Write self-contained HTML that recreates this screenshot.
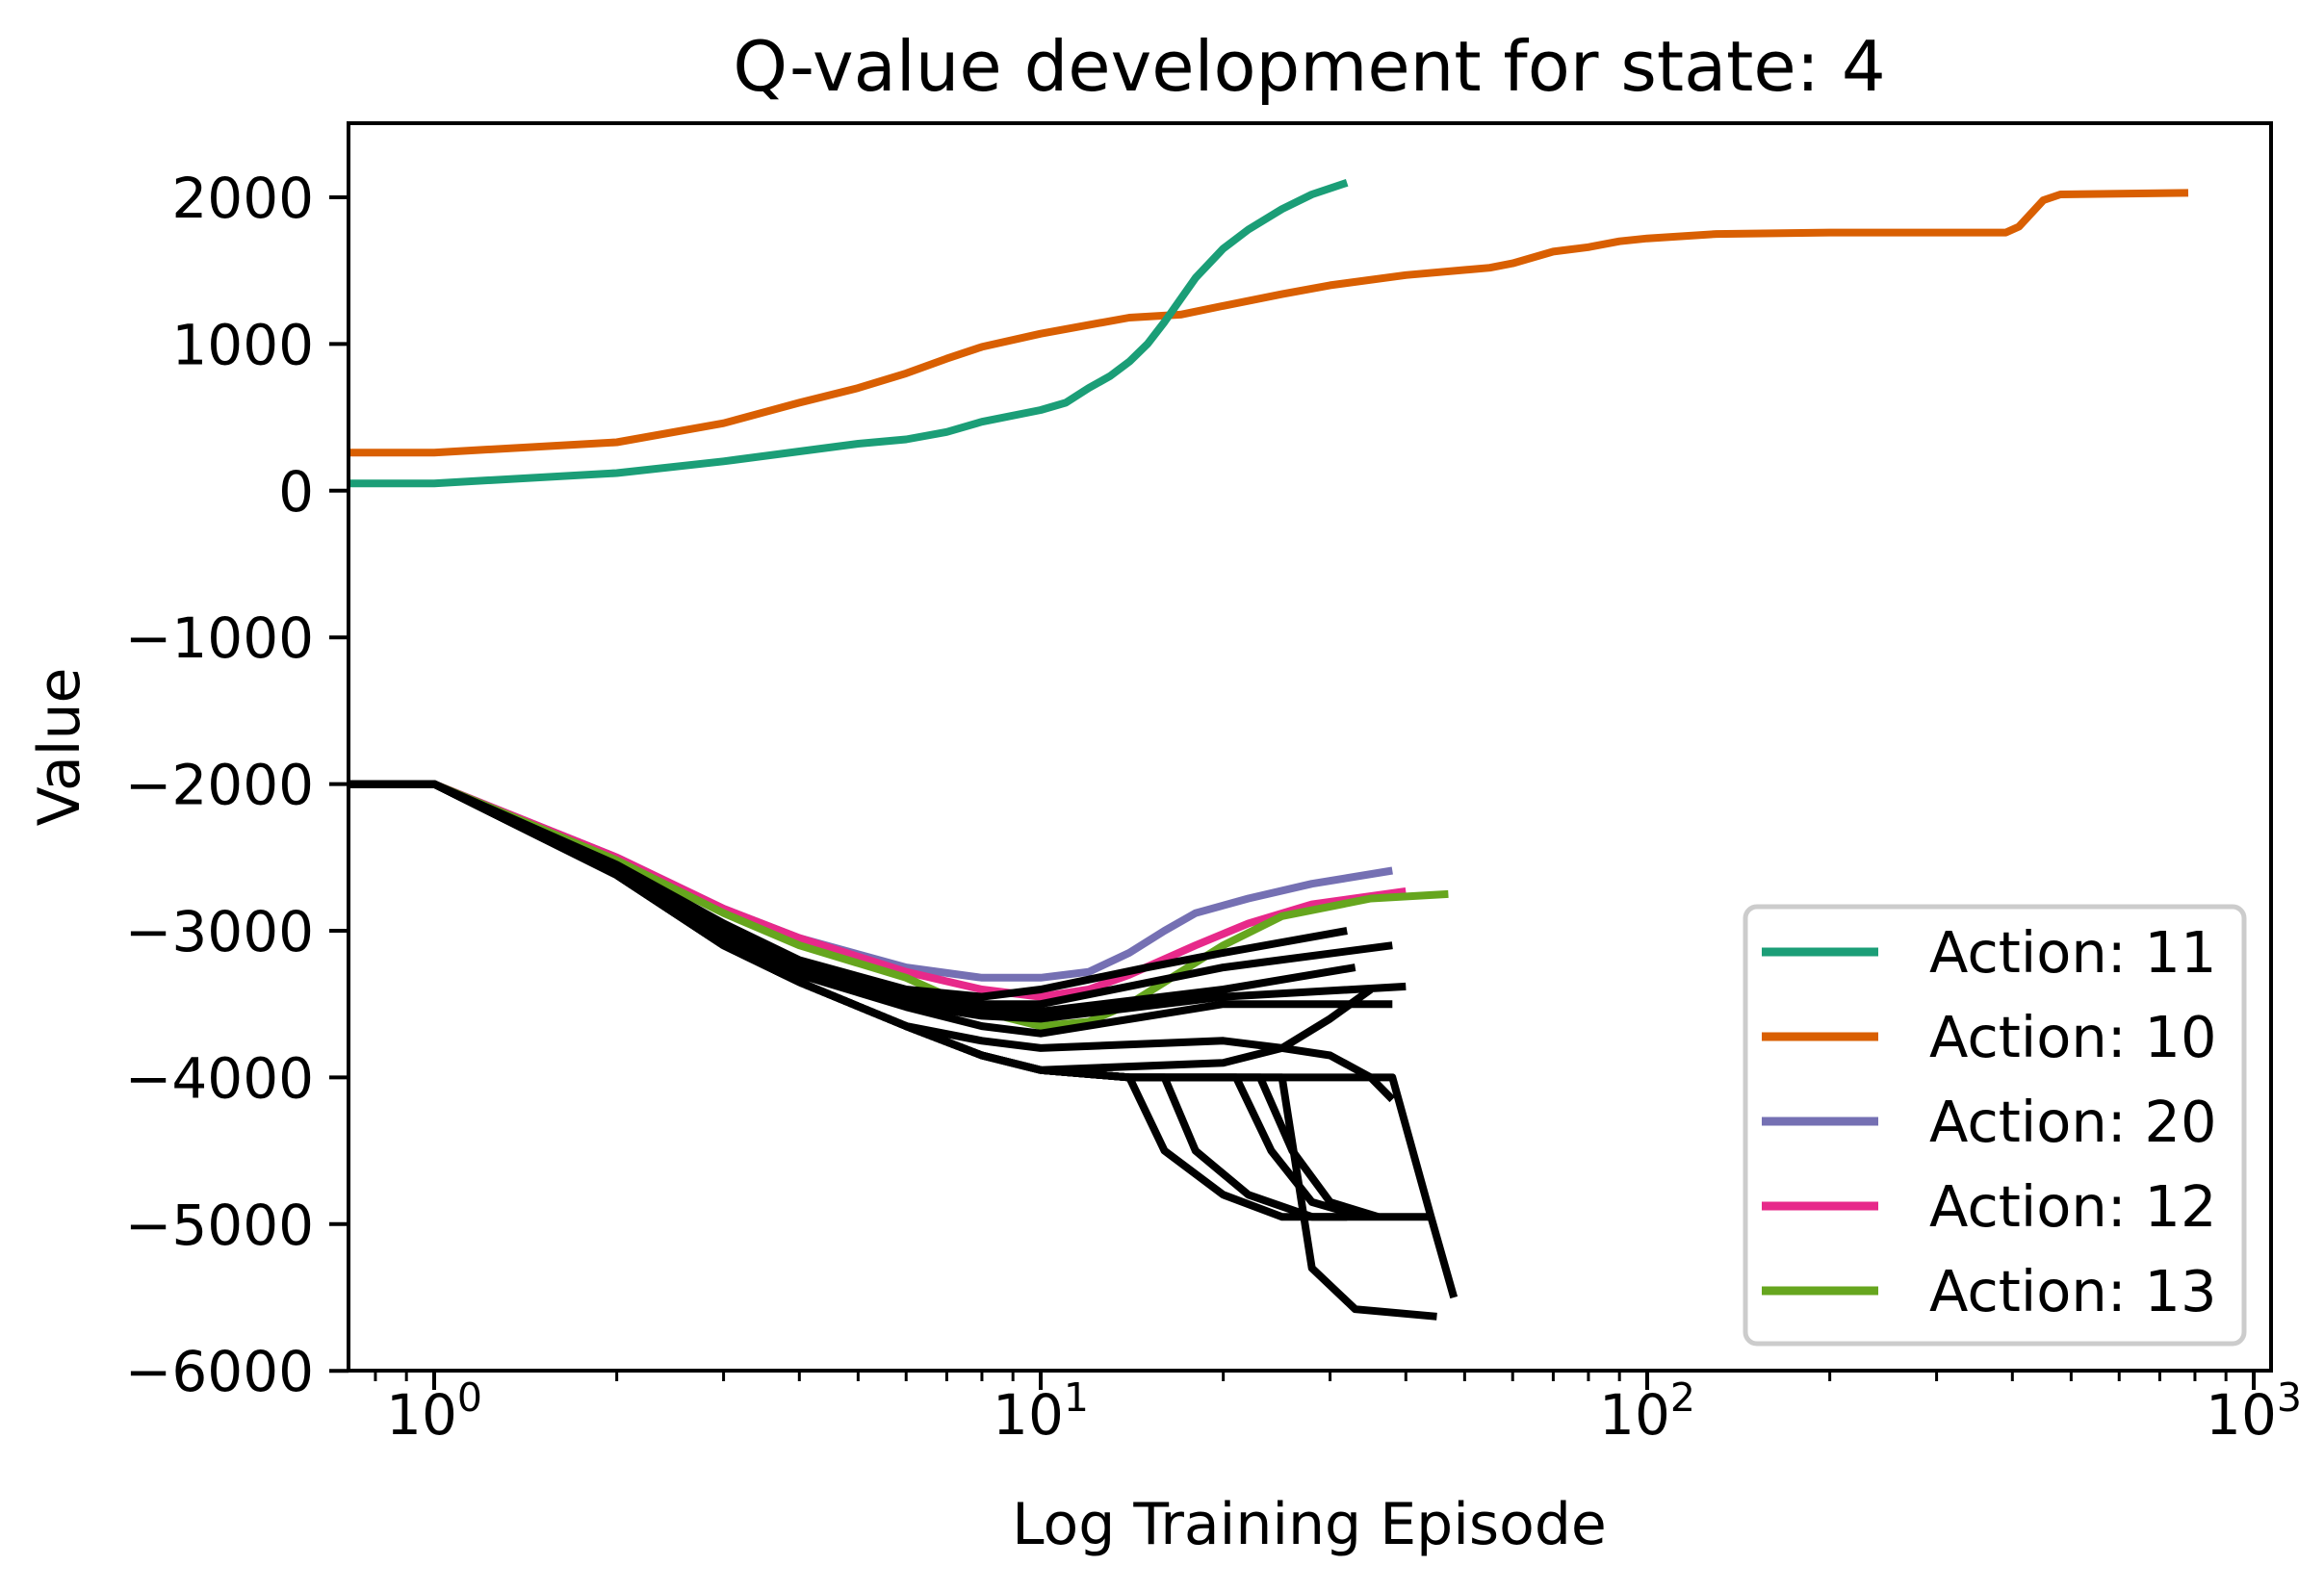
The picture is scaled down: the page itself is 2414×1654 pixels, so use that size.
<!DOCTYPE html>
<html><head><meta charset="utf-8"><style>
body{margin:0;background:#fff;}
svg{display:block;font-family:"DejaVu Sans","Liberation Sans",sans-serif;}
</style></head><body>
<svg id="chart" width="2414" height="1654" viewBox="0 0 2414 1654" xmlns="http://www.w3.org/2000/svg">
<rect width="2414" height="1654" fill="#fff"/>
<text x="1360" y="94" font-size="72" text-anchor="middle">Q-value development for state: 4</text>
<g id="series"></g>
<g id="axes"></g>
<text x="1360" y="1604" font-size="60" text-anchor="middle">Log Training Episode</text>
<text transform="translate(82,776) rotate(-90)" font-size="60" text-anchor="middle">Value</text>
<g id="legend"></g>
</svg>
<script>
const yTicks=[2000,1000,0,-1000,-2000,-3000,-4000,-5000,-6000];
const xDecades=[0,1,2,3];
const legendLabels=["Action: 11","Action: 10","Action: 20","Action: 12","Action: 13"];
const colors=["#1b9e77","#d95f02","#7570b3","#e7298a","#66a61e"];
const a11Ep=[0.72,1,2,3,5,6,7,8,10,11,12,13,14,15,16,18,20,22,25,28,32];
const a11Val=[50,50,120,200,320,350,400,470,550,600,700,780,880,1000,1150,1450,1650,1780,1920,2020,2100];
const a10Ep=[0.72,1,2,3,4,5,6,7,8,10,12,14,17,20,25,30,40,55,60,70,80,90,100,130,200,390,410,450,480,780];
const a10Val=[260,260,330,460,600,700,800,900,980,1070,1130,1180,1200,1260,1340,1400,1470,1520,1550,1630,1660,1700,1720,1750,1760,1760,1800,1980,2020,2030];
const a20Ep=[0.72,1,2,3,4,6,8,10,12,14,16,18,22,28,38];
const a20Val=[-2000,-2000,-2500,-2850,-3050,-3250,-3320,-3320,-3280,-3150,-3000,-2880,-2780,-2680,-2590];
const a12Ep=[0.72,1,2,3,4,6,8,10,12,14,18,22,28,40];
const a12Val=[-2000,-2000,-2500,-2850,-3050,-3280,-3400,-3450,-3400,-3300,-3100,-2950,-2820,-2730];
const a13Ep=[0.72,1,2,3,4,6,8,10,12,14,16,20,25,35,47];
const a13Val=[-2000,-2000,-2520,-2880,-3100,-3320,-3550,-3650,-3620,-3500,-3350,-3100,-2900,-2780,-2750];
const blackEp=[
[0.72,1,2,3,4,6,8,10,15,20,32],
[0.72,1,2,3,4,6,8,10,20,38],
[0.72,1,2,3,4,6,8,10,20,33],
[0.72,1,2,3,4,6,8,10,20,40],
[0.72,1,2,3,4,6,8,10,20,38],
[0.72,1,2,3,4,6,8,10,20,25,30,35,38],
[0.72,1,2,3,4,6,8,10,20,25,30,35],
[0.72,1,2,3,4,6,8,10,14,16,20,25,30,44],
[0.72,1,2,3,4,6,8,10,14,16,18,22,28,32],
[0.72,1,2,3,4,6,8,10,14,21,24,28,34],
[0.72,1,2,3,4,6,8,10,14,23,26,30,36],
[0.72,1,2,3,4,6,8,10,14,25,28,33,45],
[0.72,1,2,3,4,6,8,10,14,30,33,38,44,48]];
const blackVal=[
[-2000,-2000,-2550,-2950,-3200,-3400,-3450,-3400,-3250,-3150,-3000],
[-2000,-2000,-2580,-3000,-3250,-3450,-3500,-3500,-3250,-3100],
[-2000,-2000,-2580,-3000,-3250,-3480,-3550,-3550,-3400,-3250],
[-2000,-2000,-2600,-3050,-3300,-3500,-3580,-3600,-3450,-3380],
[-2000,-2000,-2600,-3050,-3300,-3520,-3650,-3700,-3500,-3500],
[-2000,-2000,-2600,-3100,-3350,-3650,-3750,-3800,-3750,-3800,-3850,-4000,-4150],
[-2000,-2000,-2620,-3100,-3350,-3650,-3850,-3950,-3900,-3800,-3600,-3400],
[-2000,-2000,-2620,-3100,-3350,-3650,-3850,-3950,-4000,-4500,-4800,-4950,-4950,-4950],
[-2000,-2000,-2620,-3100,-3350,-3650,-3850,-3950,-4000,-4000,-4500,-4800,-4950,-4950],
[-2000,-2000,-2620,-3100,-3350,-3650,-3850,-3950,-4000,-4000,-4500,-4850,-4950],
[-2000,-2000,-2620,-3100,-3350,-3650,-3850,-3950,-4000,-4000,-4500,-4850,-4950],
[-2000,-2000,-2620,-3100,-3350,-3650,-3850,-3950,-4000,-4000,-5300,-5580,-5630],
[-2000,-2000,-2620,-3100,-3350,-3650,-3850,-3950,-4000,-4000,-4000,-4000,-4950,-5500]];

const L=362,R=2359,T=128,B=1424;
const X0=451,DEC=630;
const xS=e=>X0+Math.log10(e)*DEC;
const yS=v=>205+(2000-v)/1000*152.4;
const NS="http://www.w3.org/2000/svg";
const mk=(t,a)=>{const e=document.createElementNS(NS,t);for(const k in a)e.setAttribute(k,a[k]);return e;};
const series=document.getElementById('series'),axes=document.getElementById('axes'),legend=document.getElementById('legend');
const clip=mk('clipPath',{id:'pc'});clip.appendChild(mk('rect',{x:L,y:T,width:R-L,height:B-T}));
document.getElementById('chart').appendChild(clip);
series.setAttribute('clip-path','url(#pc)');
function line(ep,val,col,name){
  const p=mk('polyline',{points:ep.map((e,i)=>xS(e).toFixed(1)+','+yS(val[i]).toFixed(1)).join(' '),fill:'none',stroke:col,'stroke-width':8,'stroke-linejoin':'round'});
  
  
  series.appendChild(p);
}
line(a20Ep,a20Val,colors[2],'series-action-20');
line(a12Ep,a12Val,colors[3],'series-action-12');
line(a13Ep,a13Val,colors[4],'series-action-13');
blackEp.forEach((ep,i)=>line(ep,blackVal[i],'#000','series-other-action'));
line(a10Ep,a10Val,colors[1],'series-action-10');
line(a11Ep,a11Val,colors[0],'series-action-11');

const frame=mk('rect',{x:L,y:T,width:R-L,height:B-T,fill:'none',stroke:'#000','stroke-width':4});


axes.appendChild(frame);
yTicks.forEach(v=>{
  const y=yS(v);
  axes.appendChild(mk('line',{x1:L-20,x2:L,y1:y,y2:y,stroke:'#000','stroke-width':4}));
  const t=mk('text',{x:L-36,y:y+21,'font-size':58,'text-anchor':'end'});
  t.textContent=(v<0?'\u2212':'')+Math.abs(v);
  
  
  axes.appendChild(t);
});
for(let d=-1;d<=3;d++){
  for(let m=1;m<10;m++){
    const x=X0+(d+Math.log10(m))*DEC;
    if(x<L||x>R)continue;
    axes.appendChild(mk('line',{x1:x,x2:x,y1:B,y2:B+(m==1?20:11),stroke:'#000','stroke-width':m==1?4:3}));
  }
}
xDecades.forEach(d=>{
  const x=X0+d*DEC;
  const t=mk('text',{x:x,y:1490,'font-size':58,'text-anchor':'middle'});
  t.innerHTML='10<tspan dy="-24" font-size="41">'+d+'</tspan>';
  
  
  axes.appendChild(t);
});
legend.appendChild(mk('rect',{x:1813,y:942,width:518,height:454,rx:12,fill:'#fff','fill-opacity':0.8,stroke:'#ccc','stroke-width':5}));
legendLabels.forEach((lab,i)=>{
  const y=989+i*88;
  const ln=mk('line',{x1:1830,x2:1951,y1:y,y2:y,stroke:colors[i],'stroke-width':9});
  
  
  legend.appendChild(ln);
  const t=mk('text',{x:2004,y:y+21,'font-size':59});
  t.textContent=lab;
  
  
  legend.appendChild(t);
});
</script>
</body></html>
